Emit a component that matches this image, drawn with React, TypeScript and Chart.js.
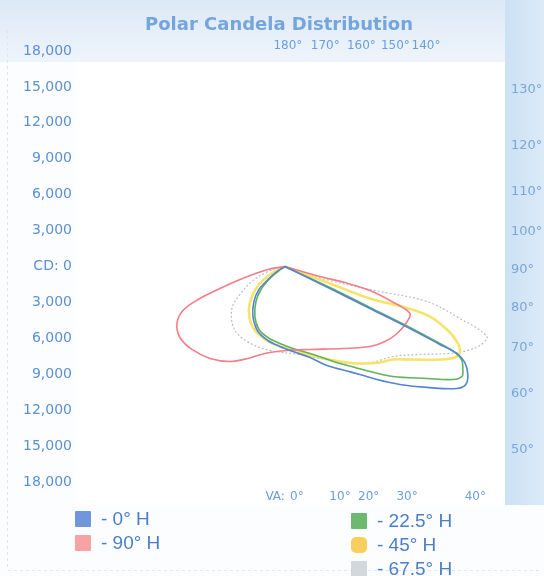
import React, { useEffect, useRef } from "react";
import { Chart, registerables } from "chart.js";

Chart.register(...registerables);

// ---- Data (candela, x = horizontal component, y = vertical component; negative = below lamp) ----
const seriesNames = ["0° H", "90° H", "22.5° H", "45° H", "67.5° H"];

const h0X = [0, 3760, 7100, 10440, 12940, 14360, 15030, 15280, 15110, 14360, 11860, 9600, 7680, 6260, 5010, 3510, 2090, 670, -420, -1420, -2250, -2670, -2590, -2170, -1420, -670, 0];
const h0Y = [0, -1840, -3510, -5180, -6510, -7260, -8020, -9020, -9850, -10190, -10100, -9850, -9440, -9020, -8680, -8270, -7600, -7100, -6680, -6180, -5430, -4180, -2920, -1920, -1090, -420, 0];

const h90X = [0, 2920, 5010, 7100, 8930, 10440, 10100, 9270, 8350, 7100, 4840, 2090, 170, -1670, -3090, -4590, -6260, -7770, -8770, -9020, -8520, -7260, -5430, -3340, -1420, 0];
const h90Y = [0, -840, -1340, -2000, -2920, -3920, -4760, -5680, -6260, -6680, -6850, -6930, -7010, -7260, -7680, -7930, -7680, -6930, -5930, -4760, -3670, -2760, -1840, -920, -250, 0];

const h225X = [0, 3760, 7100, 10440, 12940, 14200, 14780, 14860, 14780, 14030, 11860, 9020, 7100, 5850, 4590, 3340, 2090, 670, -420, -1420, -2170, -2510, -2420, -2000, -1250, -580, 0];
const h225Y = [0, -1750, -3420, -5090, -6430, -7180, -7850, -8520, -9190, -9440, -9350, -9190, -8770, -8430, -8100, -7680, -7260, -6850, -6430, -5930, -5260, -4180, -2920, -1920, -1000, -420, 0];

const h45X = [0, 3760, 7100, 10020, 12110, 13530, 14360, 14610, 14200, 12940, 10440, 9020, 7930, 6260, 4590, 2920, 1250, -420, -1670, -2670, -3010, -2760, -2170, -1250, 0];
const h45Y = [0, -1420, -2670, -3420, -4180, -5260, -6260, -7100, -7600, -7770, -7770, -7770, -8020, -8100, -7930, -7600, -7180, -6680, -6100, -5090, -3760, -2510, -1500, -670, 0];

const h675X = [0, 3760, 7930, 11860, 14610, 16870, 16280, 15280, 13780, 11270, 9020, 7260, 5430, 3340, 1250, -1250, -3170, -4260, -4430, -3760, -2760, -1420, 0];
const h675Y = [0, -1170, -2090, -2920, -4340, -5850, -6600, -7010, -7260, -7350, -7520, -8020, -8100, -7770, -7350, -7010, -6260, -5180, -3510, -2340, -1250, -420, 0];

// ---- Axis / label values ----
const cdMin = -18000;
const cdMax = 18000;
const cdStep = 3000;
const xMin = -16700;
const xMax = 18800;
const topAngles = [180, 170, 160, 150, 140];
const rightAngles = [130, 120, 110, 100, 90, 80, 70, 60, 50];
const bottomAngles = [0, 10, 20, 30, 40];

// ---- Layout (text placement only) ----
const labelRadius = 17950;
const bottomLabelX = [1000, 4600, 7000, 10200, 15900];

const colors = ["#5584d4", "#f27e88", "#5fb35c", "#f6e46a", "#b8bec4"];
const swatchColors = ["#7097dc", "#f7a3a3", "#6cb970", "#f8cf5f", "#d3d8dd"];
const widths = [1.6, 1.6, 1.6, 2.6, 1.2];

const fmt = (v: number) => Math.abs(v).toLocaleString("en-US");

const decorPlugin = {
  id: "decor",
  beforeDraw(chart: any) {
    const { ctx, width, height } = chart;
    ctx.save();
    ctx.fillStyle = "#fbfdff";
    ctx.fillRect(0, 0, width, height);
    let g = ctx.createLinearGradient(0, 0, 0, 62);
    g.addColorStop(0, "#dde9f7");
    g.addColorStop(1, "#eef4fb");
    ctx.fillStyle = g;
    ctx.fillRect(0, 0, width, 62);
    g = ctx.createLinearGradient(505, 0, width, 0);
    g.addColorStop(0, "#cce1f5");
    g.addColorStop(1, "#dbeaf8");
    ctx.fillStyle = g;
    ctx.fillRect(505, 0, width - 505, 505);
    ctx.fillStyle = "#ffffff";
    ctx.fillRect(76, 62, 429, 443);
    ctx.strokeStyle = "#dfe6ec";
    ctx.setLineDash([3, 3]);
    ctx.beginPath();
    ctx.moveTo(7.5, 30);
    ctx.lineTo(7.5, 570);
    ctx.moveTo(8, 570.5);
    ctx.lineTo(540, 570.5);
    ctx.stroke();
    ctx.restore();
  },
  afterDraw(chart: any) {
    const { ctx } = chart;
    const xs = chart.scales.x;
    const ys = chart.scales.y;
    ctx.save();
    // title
    ctx.fillStyle = "#74a5dd";
    ctx.font = "bold 18px 'DejaVu Sans'";
    ctx.textAlign = "center";
    ctx.textBaseline = "alphabetic";
    ctx.fillText("Polar Candela Distribution", 279, 30);

    ctx.font = "12px 'DejaVu Sans'";
    ctx.fillStyle = "#6b9ede";
    ctx.textBaseline = "middle";
    // top angle labels
    topAngles.forEach((a) => {
      const r = ((180 - a) * Math.PI) / 180;
      const x = xs.getPixelForValue(labelRadius * Math.sin(r) + 250);
      ctx.fillText(a + "°", x, 46);
    });
    // right angle labels
    ctx.font = "13px 'DejaVu Sans'";
    ctx.fillStyle = "#7aa6dc";
    ctx.textAlign = "left";
    rightAngles.forEach((a) => {
      const r = (a * Math.PI) / 180;
      const y = ys.getPixelForValue(-labelRadius * (Math.cos(r) / Math.sin(r)) - 250);
      ctx.fillText(a + "°", 511, y);
    });
    // bottom VA labels
    ctx.font = "12px 'DejaVu Sans'";
    ctx.fillStyle = "#6b9ede";
    ctx.textAlign = "center";
    bottomAngles.forEach((a, i) => {
      const x = xs.getPixelForValue(bottomLabelX[i]);
      ctx.fillText(a + "°", x, 497);
      if (i === 0) {
        ctx.textAlign = "right";
        ctx.fillText("VA:", x - 12, 497);
        ctx.textAlign = "center";
      }
    });
    ctx.restore();
  },
};

function toPoints(xs: number[], ys: number[]) {
  return xs.map((x, i) => ({ x, y: ys[i] }));
}

export default function App() {
  const ref = useRef<HTMLCanvasElement | null>(null);

  useEffect(() => {
    if (!ref.current) return;
    const series = [
      toPoints(h0X, h0Y),
      toPoints(h90X, h90Y),
      toPoints(h225X, h225Y),
      toPoints(h45X, h45Y),
      toPoints(h675X, h675Y),
    ];
    const chart = new Chart(ref.current, {
      type: "scatter",
      data: {
        datasets: series.map((pts, i) => ({
          label: seriesNames[i],
          data: pts,
          showLine: true,
          borderColor: colors[i],
          backgroundColor: colors[i],
          borderWidth: widths[i],
          borderDash: i === 4 ? [2, 2] : [],
          pointRadius: 0,
          tension: 0.35,
          fill: false,
        })),
      },
      options: {
        animation: false,
        responsive: true,
        maintainAspectRatio: false,
        layout: { padding: { top: 51, bottom: 94, right: 34, left: 0 } },
        plugins: {
          legend: { display: false },
          tooltip: { enabled: false },
          title: { display: false },
        },
        scales: {
          x: {
            type: "linear",
            min: xMin,
            max: xMax,
            display: false,
          },
          y: {
            type: "linear",
            min: cdMin,
            max: cdMax,
            grid: { display: false, drawTicks: false },
            border: { display: false },
            afterFit: (s: any) => {
              s.width = 85;
            },
            ticks: {
              stepSize: cdStep,
              padding: 13,
              color: "#5d8fd5",
              font: { family: "'DejaVu Sans'", size: 14 },
              callback: (v: any) => (Number(v) === 0 ? "CD: 0" : fmt(Number(v))),
            },
          },
        },
      },
      plugins: [decorPlugin],
    });
    return () => chart.destroy();
  }, []);

  const legendCols = [
    { left: 75, items: [0, 1], top: 510 },
    { left: 351, items: [2, 3, 4], top: 512 },
  ];

  return (
    <div style={{ position: "fixed", left: 0, top: 0, width: 544, height: 576, overflow: "hidden" }}>
      <canvas ref={ref} />
      {legendCols.map((col, ci) =>
        col.items.map((idx, j) => (
          <div
            key={ci + "-" + idx}
            style={{
              position: "absolute",
              left: col.left,
              top: col.top + j * 24,
              height: 17,
              display: "flex",
              alignItems: "center",
              fontFamily: "'Liberation Sans', Arial, sans-serif",
              fontSize: 19,
              color: "#4b7dca",
              whiteSpace: "nowrap",
            }}
          >
            <span
              style={{
                display: "inline-block",
                width: 16,
                height: 16,
                background: swatchColors[idx],
                borderRadius: idx === 3 ? 5 : 1,
                marginRight: 10,
              }}
            />
            <span style={{ lineHeight: "17px" }}>- {seriesNames[idx]}</span>
          </div>
        ))
      )}
    </div>
  );
}
